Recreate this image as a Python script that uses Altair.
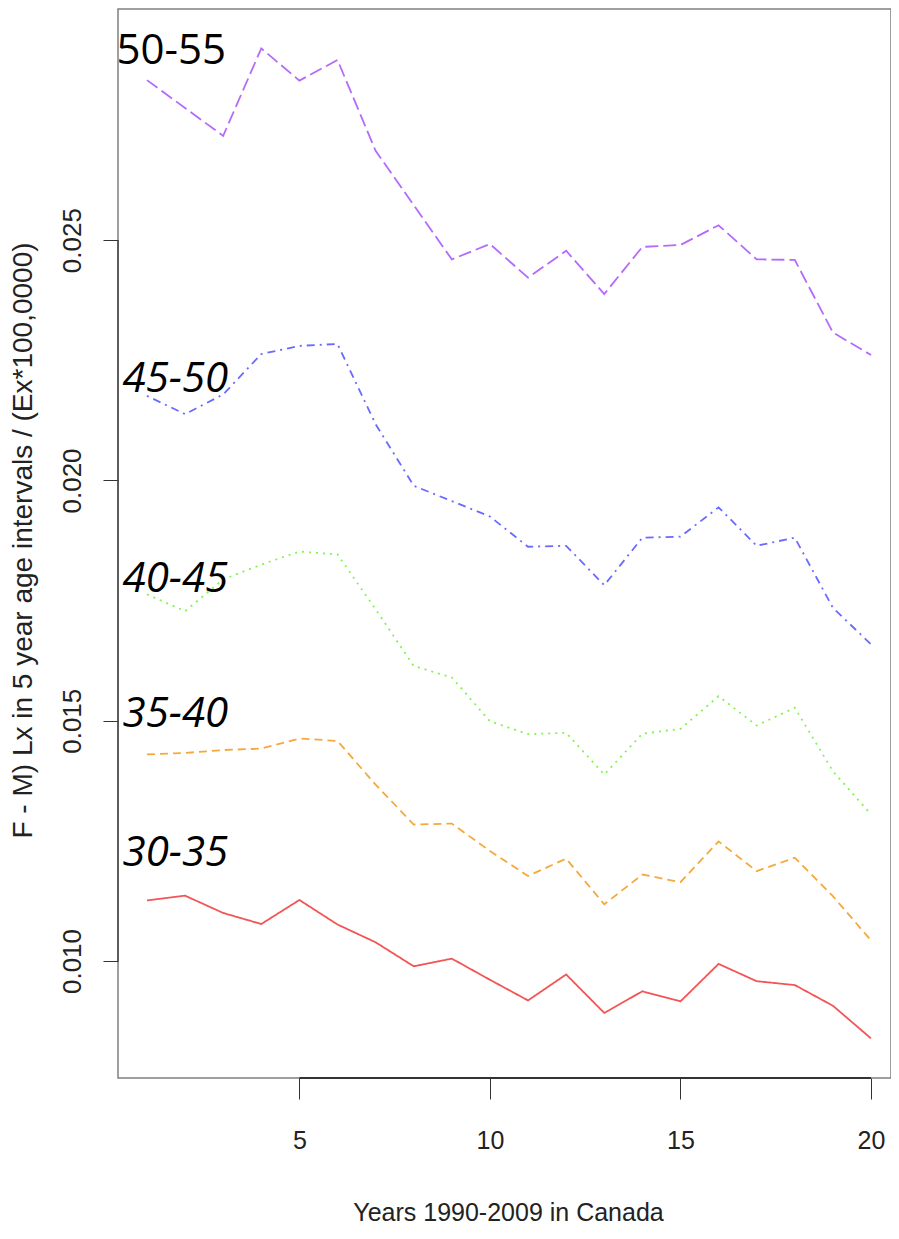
import altair as alt
import pandas as pd

# ---- data ----
years = list(range(1, 21))
series_names = ["30-35", "35-40", "40-45", "45-50", "50-55"]
s30_35 = [0.01126, 0.01136, 0.01100, 0.01077, 0.01127, 0.01076, 0.01039, 0.00989, 0.01005, 0.00961,
          0.00918, 0.00972, 0.00892, 0.00937, 0.00916, 0.00994, 0.00958, 0.00950, 0.00907, 0.00839]
s35_40 = [0.01430, 0.01433, 0.01439, 0.01442, 0.01463, 0.01458, 0.01367, 0.01284, 0.01286, 0.01229,
          0.01177, 0.01213, 0.01118, 0.01180, 0.01164, 0.01249, 0.01187, 0.01215, 0.01135, 0.01043]
s40_45 = [0.01763, 0.01728, 0.01794, 0.01825, 0.01852, 0.01846, 0.01732, 0.01614, 0.01590, 0.01499,
          0.01472, 0.01475, 0.01388, 0.01473, 0.01483, 0.01551, 0.01490, 0.01527, 0.01395, 0.01305]
s45_50 = [0.02176, 0.02138, 0.02179, 0.02263, 0.02280, 0.02284, 0.02117, 0.01989, 0.01957, 0.01925,
          0.01862, 0.01864, 0.01782, 0.01881, 0.01883, 0.01944, 0.01864, 0.01881, 0.01735, 0.01659]
s50_55 = [0.02833, 0.02775, 0.02717, 0.02899, 0.02832, 0.02875, 0.02686, 0.02573, 0.02460, 0.02492,
          0.02422, 0.02478, 0.02388, 0.02486, 0.02490, 0.02531, 0.02460, 0.02459, 0.02308, 0.02261]

x_ticks = [5, 10, 15, 20]
y_ticks = [0.010, 0.015, 0.020, 0.025]

label_text = ["50-55", "45-50", "40-45", "35-40", "30-35"]
label_x = [0.20, 0.36, 0.36, 0.36, 0.36]
label_y = [0.02866, 0.02184, 0.01767, 0.01486, 0.01197]
label_italic = [False, True, True, True, True]

x_title = "Years 1990-2009 in Canada"
y_title = "F - M) Lx in 5 year age intervals / (Ex*100,0000)"

# ---- styling ----
colors = ["#F25555", "#F6A83C", "#80F54A", "#6A6AFF", "#B46AFA"]
dashes = [[1, 0], [8, 5], [2, 5], [2, 5, 8, 5], [13, 5]]

W, H = 773, 1069
x_dom = [0.24, 20.525]
y_dom = [0.007566, 0.02981]

rows = []
for name, vals in zip(series_names, [s30_35, s35_40, s40_45, s45_50, s50_55]):
    for yr, v in zip(years, vals):
        rows.append({"series": name, "year": yr, "value": v})
df = pd.DataFrame(rows)

labels_df = pd.DataFrame({"text": label_text, "x": label_x, "y": label_y, "italic": label_italic})

xs = alt.Scale(domain=x_dom, nice=False, zero=False)
ys = alt.Scale(domain=y_dom, nice=False, zero=False)

x_axis = alt.Axis(
    values=x_ticks, grid=False, domain=False, tickSize=21, tickColor="#333333", tickWidth=1,
    labelFont="Liberation Sans", labelFontSize=25, labelColor="#222222",
    labelBaseline="alphabetic", labelPadding=49, labelAngle=0,
    title=x_title, titleFont="Liberation Sans", titleFontSize=25, titleFontWeight="normal",
    titleColor="#222222", titleX=390, titleY=142, titleAlign="center", titleBaseline="alphabetic",
)
y_axis = alt.Axis(
    values=y_ticks, grid=False, domain=False, tickSize=15, tickColor="#333333", tickWidth=1,
    format=".3f", labelFont="Liberation Sans", labelFontSize=26, labelColor="#222222",
    labelAngle=270, labelAlign="center", labelBaseline="alphabetic", labelPadding=23,
    title=y_title, titleFont="Liberation Sans", titleFontSize=28, titleFontWeight="normal",
    titleColor="#222222", titleAngle=270, titleX=-87, titleY=531, titleAlign="center",
    titleBaseline="alphabetic",
)

lines = alt.Chart(df).mark_line(strokeWidth=1.8).encode(
    x=alt.X("year:Q", scale=xs, axis=x_axis),
    y=alt.Y("value:Q", scale=ys, axis=y_axis),
    color=alt.Color("series:N", scale=alt.Scale(domain=series_names, range=colors), legend=None),
    strokeDash=alt.StrokeDash("series:N", scale=alt.Scale(domain=series_names, range=dashes), legend=None),
    detail="series:N",
)

# axis lines spanning first to last tick (R style)
xline_df = pd.DataFrame({"x1": [min(x_ticks)], "x2": [max(x_ticks)], "y": [y_dom[0]]})
yline_df = pd.DataFrame({"y1": [min(y_ticks)], "y2": [max(y_ticks)], "x": [x_dom[0]]})
xline = alt.Chart(xline_df).mark_rule(color="#333333", strokeWidth=2).encode(
    x=alt.X("x1:Q", scale=xs), x2="x2:Q", y=alt.Y("y:Q", scale=ys))
yline = alt.Chart(yline_df).mark_rule(color="#444444", strokeWidth=1.5).encode(
    y=alt.Y("y1:Q", scale=ys), y2="y2:Q", x=alt.X("x:Q", scale=xs))

text_normal = alt.Chart(labels_df).transform_filter("!datum.italic").mark_text(
    align="left", baseline="alphabetic", font="Open Sans", fontSize=42, color="black"
).encode(x=alt.X("x:Q", scale=xs), y=alt.Y("y:Q", scale=ys), text="text:N")

text_italic = alt.Chart(labels_df).transform_filter("datum.italic").mark_text(
    align="left", baseline="alphabetic", font="Open Sans", fontSize=42, fontStyle="italic", color="black"
).encode(x=alt.X("x:Q", scale=xs), y=alt.Y("y:Q", scale=ys), text="text:N")

chart = alt.layer(lines, xline, yline, text_normal, text_italic).properties(
    width=W, height=H,
    autosize="none",
    padding={"left": 110, "top": 1, "right": 0, "bottom": 147},
).configure_view(stroke="#808080", strokeWidth=1.5)

chart.save("out.html", embed_options={"renderer": "svg", "actions": False})
